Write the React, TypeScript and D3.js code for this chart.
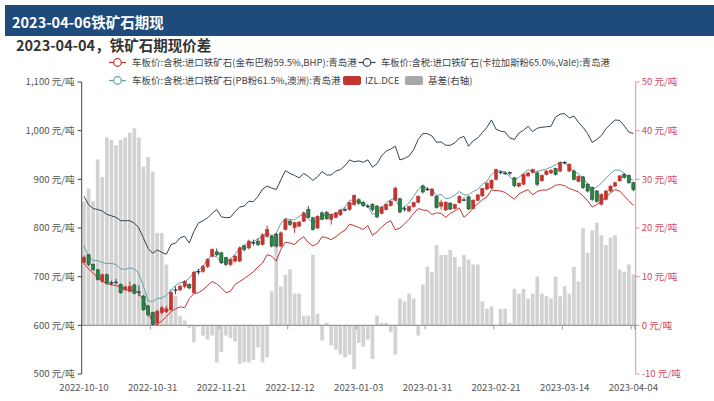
import React from 'react';
import * as d3 from 'd3';

// ---------- categories ----------
const START = '2022-10-10';
const END = '2023-04-04';
const HOLIDAYS = ['2023-01-02', '2023-01-23', '2023-01-24', '2023-01-25', '2023-01-26', '2023-01-27'];
function tradingDays(start: string, end: string): string[] {
  const out: string[] = [];
  const d = new Date(start + 'T00:00:00Z');
  const e = new Date(end + 'T00:00:00Z');
  while (d <= e) {
    const s = d.toISOString().slice(0, 10);
    const wd = d.getUTCDay();
    if (wd !== 0 && wd !== 6 && !HOLIDAYS.includes(s)) out.push(s);
    d.setUTCDate(d.getUTCDate() + 1);
  }
  return out;
}
const dates = tradingDays(START, END);
const xTickLabels = ['2022-10-10', '2022-10-31', '2022-11-21', '2022-12-12', '2023-01-03', '2023-01-31', '2023-02-21', '2023-03-14', '2023-04-04'];
const yLeftTicks = [500, 600, 700, 800, 900, 1000, 1100];
const yRightTicks = [-10, 0, 10, 20, 30, 40, 50];

// ---------- series ----------
const bhp = [727, 716, 707, 699, 691, 685, 684, 681, 680, 673, 673, 671, 666, 652, 630, 605, 601, 609, 618, 628, 634, 638, 636, 655, 665, 667, 673, 682, 690, 685,
  677, 667, 670, 684, 690, 696, 703, 710, 720, 728, 745, 742, 732, 756, 771, 769, 766, 776, 782, 770, 763, 768, 782, 780, 776, 782, 790, 795, 808, 805,
  801, 797, 805, 785, 792, 802, 810, 815, 796, 800, 808, 818, 830, 840, 837, 836, 828, 831, 830, 822, 830, 835, 841, 822, 830, 841, 850, 858, 864, 878,
  877, 876, 873, 866, 859, 870, 875, 879, 868, 875, 878, 878, 882, 888, 889, 887, 881, 878, 874, 866, 856, 843, 848, 855, 863, 872, 879, 876, 866, 856, 846];
const vale = [865, 848, 840, 838, 835, 828, 825, 822, 815, 815, 815, 810, 800, 779, 758, 748, 755, 750, 746, 766, 769, 780, 783, 769, 793, 810, 815, 821, 830, 838,
  823, 821, 822, 834, 843, 845, 855, 854, 865, 880, 886, 882, 879, 899, 918, 912, 908, 903, 912, 906, 898, 905, 916, 909, 909, 917, 920, 928, 940, 936,
  938, 935, 940, 925, 932, 948, 958, 962, 968, 940, 943, 948, 961, 982, 994, 994, 989, 976, 977, 970, 970, 975, 985, 988, 968, 979, 985, 996, 1007, 1022,
  1003, 999, 997, 985, 982, 995, 1001, 1009, 998, 1005, 1007, 1008, 1009, 1028, 1034, 1035, 1026, 1030, 1017, 1007, 994, 976, 982, 990, 1004, 1013, 1022, 1021, 1010, 997, 994];
const pb = [763, 742, 733, 733, 729, 727, 727, 725, 716, 715, 718, 716, 706, 680, 650, 649, 655, 656, 662, 672, 682, 688, 689, 697, 708, 713, 722, 735, 745, 740,
  729, 730, 737, 746, 758, 765, 769, 772, 778, 783, 791, 784, 789, 810, 820, 817, 817, 824, 829, 818, 811, 814, 824, 828, 827, 830, 836, 843, 857, 857,
  852, 849, 845, 828, 831, 841, 852, 858, 862, 838, 843, 852, 865, 879, 889, 879, 879, 867, 869, 860, 862, 868, 875, 868, 868, 875, 879, 890, 896, 910,
  918, 917, 915, 905, 898, 904, 912, 920, 915, 916, 919, 921, 925, 930, 935, 934, 924, 917, 911, 902, 891, 879, 884, 892, 902, 912, 919, 919, 912, 902, 898];
const basis = [25.5, 28.1, 25.5, 34.1, 30.5, 38.6, 38.1, 37.0, 38.1, 38.6, 39.6, 40.5, 38.6, 32.6, 34.6, 31.6, 19.0, 19.0, 12.5, 7.5, 6.0, 1.9, 1.0, -0.5, -3.5, -0.3, -2.1, -2.9, -2.1, -7.6,
  -5.5, -2.1, -2.6, -3.3, -7.9, -7.6, -7.6, -7.1, -4.5, -7.6, -6.6, 7.0, 18.3, 8.0, 10.4, 11.5, 6.5, 6.5, 2.0, 2.0, 14.5, 2.4, -3.1, 0.5, -4.1, -5.0, -6.0, -6.6, -6.0, -9.0,
  -3.6, -4.4, -2.9, -6.9, 2.0, 0.5, 0.5, -1.4, -6.0, 5.5, 4.9, 6.5, 5.5, -2.1, 8.4, 12.0, 10.9, 16.5, 14.5, 14.5, 15.5, 14.0, 12.0, 14.5, 13.5, 12.5, 12.5, 4.9, 3.4, 3.9,
  0, 3.4, 3.4, 0.5, 7.5, 6.5, 7.5, 5.5, 6.5, 10.0, 6.5, 6.0, 5.5, 10.0, 6.0, 8.0, 6.5, 12.0, 9.0, 20.0, 14.9, 19.5, 21.1, 18.5, 16.5, 18.0, 18.5, 11.5, 11.0, 12.5, 10.5];
const kOpen = [729, 745, 725, 714, 690, 704, 688, 689, 684, 673, 670, 683, 669, 660, 640, 626, 605, 626, 628, 632, 673, 673, 680, 684, 667, 711, 711, 721, 742, 751,
  749, 739, 725, 732, 732, 763, 759, 770, 773, 766, 783, 783, 787, 763, 797, 814, 801, 804, 814, 838, 821, 800, 831, 832, 818, 822, 827, 838, 838, 848,
  858, 853, 845, 848, 845, 830, 838, 846, 857, 860, 840, 835, 844, 853, 886, 880, 867, 865, 845, 837, 851, 840, 852, 858, 864, 840, 857, 866, 880, 882,
  900, 915, 913, 914, 903, 886, 890, 907, 914, 913, 897, 910, 913, 922, 917, 935, 917, 917, 896, 905, 890, 883, 876, 849, 859, 876, 886, 897, 910, 908, 893];
const kClose = [740, 725, 715, 694, 704, 687, 688, 689, 667, 679, 680, 666, 669, 632, 622, 602, 629, 636, 634, 667, 673, 680, 690, 677, 709, 711, 721, 735, 756, 745,
  729, 725, 735, 742, 759, 756, 773, 770, 766, 786, 797, 763, 763, 790, 817, 807, 811, 812, 831, 822, 797, 824, 818, 819, 828, 831, 837, 838, 852, 867,
  851, 846, 845, 838, 823, 843, 848, 855, 882, 833, 840, 844, 852, 865, 874, 880, 880, 842, 852, 853, 839, 848, 865, 858, 839, 857, 868, 881, 892, 898,
  920, 915, 913, 914, 887, 892, 910, 913, 920, 890, 908, 917, 918, 910, 934, 935, 931, 900, 906, 883, 876, 859, 855, 869, 876, 886, 893, 907, 904, 893, 879];
const kHigh = [743, 746, 727, 716, 706, 706, 692, 695, 686, 681, 690, 685, 682, 662, 642, 628, 632, 640, 640, 670, 680, 684, 693, 686, 712, 716, 724, 738, 758, 758,
  751, 741, 738, 745, 762, 765, 776, 776, 778, 789, 805, 786, 790, 793, 820, 817, 813, 815, 834, 845, 823, 826, 834, 835, 830, 833, 839, 842, 854, 869,
  861, 855, 849, 851, 847, 845, 850, 857, 885, 862, 845, 846, 854, 867, 888, 884, 882, 867, 858, 855, 853, 850, 867, 863, 866, 859, 870, 883, 894, 900,
  922, 918, 917, 916, 905, 894, 912, 915, 922, 916, 910, 919, 921, 924, 937, 938, 933, 920, 908, 907, 892, 885, 878, 871, 878, 888, 895, 909, 913, 910, 895];
const kLow = [727, 722, 712, 692, 688, 684, 682, 684, 665, 671, 668, 664, 660, 630, 618, 600, 601, 622, 625, 630, 664, 670, 676, 674, 665, 704, 708, 718, 740, 742,
  726, 722, 722, 729, 730, 752, 756, 764, 763, 764, 780, 760, 760, 760, 795, 804, 790, 802, 812, 820, 795, 798, 816, 817, 807, 820, 825, 834, 836, 846,
  848, 843, 841, 834, 820, 828, 836, 844, 855, 830, 834, 833, 842, 851, 871, 876, 865, 840, 838, 835, 837, 838, 850, 855, 837, 838, 855, 864, 878, 880,
  898, 910, 909, 908, 884, 884, 888, 905, 912, 886, 895, 908, 911, 908, 915, 931, 915, 898, 894, 880, 873, 856, 852, 846, 857, 874, 884, 895, 902, 891, 876];

// ---------- text ----------
const headerTitle = '2023-04-06铁矿石期现';
const chartTitle = '2023-04-04，铁矿石期现价差';
const seriesNames = [
  '车板价:含税:进口铁矿石(金布巴粉59.5%,BHP):青岛港',
  '车板价:含税:进口铁矿石(卡拉加斯粉65.0%,Vale):青岛港',
  '车板价:含税:进口铁矿石(PB粉61.5%,澳洲):青岛港',
  'IZL.DCE',
  '基差(右轴)',
];

const FONT = '"Noto Sans CJK SC", "Noto Sans", sans-serif';
const C_BHP = '#c23531';
const C_VALE = '#2f4554';
const C_PB = '#61a0a8';
const C_UP = '#c23531';
const C_DOWN = '#23883f';
const C_DOWN_BORDER = '#2c4a3a';
const C_DOJI = '#314656';
const C_BAR = '#a8a8a8';
const C_RIGHT = '#d14a61';

export default function App() {
  const left = 81.7, right = 635.7, top = 82, bottom = 374;
  const idx = d3.range(dates.length);
  const x = d3.scaleBand<number>().domain(idx).range([left, right]).paddingInner(0).paddingOuter(0);
  const bw = x.bandwidth();
  const cx = (i: number) => (x(i) as number) + bw / 2;
  const yL = d3.scaleLinear().domain([500, 1100]).range([bottom, top]);
  const yR = d3.scaleLinear().domain([-10, 50]).range([bottom, top]);
  const lineGen = d3.line<number>().x((_, i) => cx(i)).y((d) => yL(d));
  const fmt = d3.format(',');
  const zeroY = yR(0);
  const barW = bw * 0.8;
  const candleW = bw * 0.7;

  const legendLine = (x0: number, y0: number, color: string) => (
    <g>
      <line x1={x0} x2={x0 + 17} y1={y0} y2={y0} stroke={color} strokeWidth={1.2} />
      <circle cx={x0 + 8.5} cy={y0} r={3.8} fill="#fff" stroke={color} strokeWidth={1.2} />
    </g>
  );

  return (
    <svg width={714} height={401} style={{ position: 'absolute', left: 0, top: 0, background: '#fff' }} fontFamily={FONT}>
      <rect x={0} y={0} width={714} height={401} fill="#fff" />
      {/* header */}
      <rect x={5} y={5} width={709} height={31} fill="#1f4a7c" />
      <text x={12} y={27.5} fill="#fff" fontSize={14.5} fontWeight="bold">{headerTitle}</text>
      <text x={16} y={50.5} fill="#333" fontSize={14.5} fontWeight="bold">{chartTitle}</text>

      {/* legend */}
      {legendLine(109, 62.5, C_BHP)}
      <text x={132} y={62.5} dy="0.35em" fontSize={9.5} fill="#444">{seriesNames[0]}</text>
      {legendLine(358.5, 62.5, C_VALE)}
      <text x={381} y={62.5} dy="0.35em" fontSize={9.3} fill="#444">{seriesNames[1]}</text>
      {legendLine(109, 80.5, C_PB)}
      <text x={132} y={80.5} dy="0.35em" fontSize={9.5} fill="#444">{seriesNames[2]}</text>
      <rect x={343} y={76} width={18} height={9} rx={2} fill={C_UP} />
      <text x={365} y={80.5} dy="0.35em" fontSize={9.5} fill="#444">{seriesNames[3]}</text>
      <rect x={405} y={76} width={18} height={9} rx={2} fill={C_BAR} />
      <text x={428} y={80.5} dy="0.35em" fontSize={9.5} fill="#444">{seriesNames[4]}</text>

      {/* basis bars (right axis) */}
      <g>
        {basis.map((v, i) => {
          const y1 = yR(v);
          return (
            <rect key={i} x={cx(i) - barW / 2} width={barW} y={Math.min(y1, zeroY)} height={Math.abs(zeroY - y1)} fill={C_BAR} fillOpacity={0.52} />
          );
        })}
      </g>

      {/* x axis line at zero */}
      <line x1={left} x2={right} y1={zeroY} y2={zeroY} stroke="#999" strokeWidth={1.2} />
      {xTickLabels.map((lab) => {
        const i = dates.indexOf(lab);
        const bx = x(i) as number;
        return (
          <g key={lab}>
            {i > 0 && <line x1={bx} x2={bx} y1={zeroY} y2={zeroY + 4} stroke="#999" />}
            <text x={cx(i)} y={390.5} textAnchor="middle" fontSize={9.6} fill="#555">{lab}</text>
          </g>
        );
      })}
      <line x1={right - 1} x2={right - 1} y1={zeroY} y2={zeroY + 4} stroke="#999" />

      {/* lines */}
      <path d={lineGen(bhp) || ''} fill="none" stroke={C_BHP} strokeWidth={1} />
      <path d={lineGen(vale) || ''} fill="none" stroke={C_VALE} strokeWidth={1} />
      <path d={lineGen(pb) || ''} fill="none" stroke={C_PB} strokeWidth={1} />

      {/* candlesticks */}
      <g>
        {kOpen.map((o, i) => {
          const c = kClose[i];
          const hi = kHigh[i];
          const lo = kLow[i];
          const up = c > o;
          const doji = c === o;
          const stroke = doji ? C_DOJI : up ? C_UP : C_DOWN_BORDER;
          const fill = doji ? C_DOJI : up ? C_UP : C_DOWN;
          const yTop = yL(Math.max(o, c));
          const yBot = yL(Math.min(o, c));
          const xc = cx(i);
          return (
            <g key={i}>
              <line x1={xc} x2={xc} y1={yL(hi)} y2={yL(lo)} stroke={stroke} strokeWidth={1} />
              <rect x={xc - candleW / 2} width={candleW} y={yTop} height={Math.max(yBot - yTop, 0.8)} fill={fill} stroke={stroke} strokeWidth={0.6} />
            </g>
          );
        })}
      </g>

      {/* left axis */}
      <line x1={left} x2={left} y1={top} y2={bottom} stroke="#444" strokeWidth={1} />
      {yLeftTicks.map((t) => (
        <g key={t}>
          <line x1={left - 4} x2={left} y1={yL(t)} y2={yL(t)} stroke="#444" />
          <text x={left - 7} y={yL(t)} dy="0.35em" textAnchor="end" fontSize={9.6} fill="#555">{fmt(t)} 元/吨</text>
        </g>
      ))}

      {/* right axis */}
      <line x1={right} x2={right} y1={top} y2={bottom} stroke={C_RIGHT} strokeOpacity={0.6} strokeWidth={1} />
      {yRightTicks.map((t) => (
        <g key={t}>
          <line x1={right} x2={right + 4} y1={yR(t)} y2={yR(t)} stroke={C_RIGHT} strokeOpacity={0.6} />
          <text x={right + 6} y={yR(t)} dy="0.35em" textAnchor="start" fontSize={9.6} fill={C_RIGHT}>{t} 元/吨</text>
        </g>
      ))}
    </svg>
  );
}
